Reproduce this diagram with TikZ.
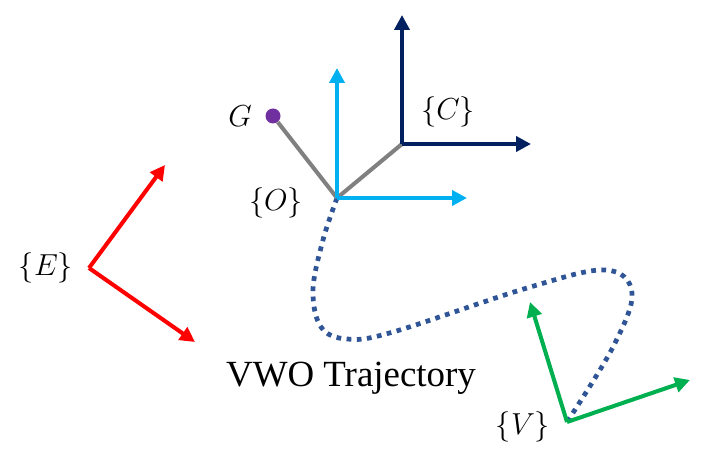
\documentclass[tikz,border=0pt]{standalone}
\usepackage{fontspec}
\setmainfont{Liberation Serif}
\usetikzlibrary{arrows.meta}

\definecolor{frameE}{HTML}{FF0000}
\definecolor{frameO}{HTML}{00B0F0}
\definecolor{frameC}{HTML}{002060}
\definecolor{frameV}{HTML}{00B050}
\definecolor{linkgray}{HTML}{808080}
\definecolor{gpurple}{HTML}{7030A0}
\definecolor{trajblue}{HTML}{2F5597}

\begin{document}
\begin{tikzpicture}[
    axis/.style={line width=2.3pt, -{Triangle[length=8.5pt,width=8.5pt]}},
    link/.style={line width=2.3pt, linkgray},
    traj/.style={line width=2.7pt, trajblue, dash pattern=on 2.7pt off 3.1pt},
    framelabel/.style={font=\fontsize{17.5}{20}\selectfont, inner sep=1pt},
]
\useasboundingbox (0,0) rectangle (14.12,9.24);

% ---- frame origins ----
\coordinate (O) at (6.74,5.28);   % {O}
\coordinate (C) at (8.04,6.36);   % {C}
\coordinate (E) at (1.78,3.88);   % {E}
\coordinate (V) at (11.34,0.80);  % {V}

% ---- axis tips ----
\coordinate (Ox) at (9.34,5.28);
\coordinate (Oy) at (6.74,7.88);
\coordinate (Cx) at (10.62,6.36);
\coordinate (Cy) at (8.04,8.94);
\coordinate (Ex) at (3.90,2.40);
\coordinate (Ey) at (3.30,5.94);
\coordinate (Vx) at (13.80,1.64);
\coordinate (Vy) at (10.60,3.20);

% ---- VWO trajectory (dotted) ----
\draw[traj] plot[smooth, tension=0.6] coordinates {
    (O) (6.46,4.44) (6.26,3.44) (6.42,2.70) (6.94,2.46) (7.86,2.60)
    (10.54,3.48) (12.10,3.84) (12.64,3.38) (12.26,2.30) (V)};

% ---- gray links and G ----
\node[circle, fill=gpurple, minimum size=0.3cm, inner sep=0pt] (G) at (5.46,6.92) {};
\draw[link] (G) -- (O);
\draw[link] (O) -- (C);

% ---- frame axes ----
\draw[axis, frameO] (O) -- (Ox);
\draw[axis, frameO] (O) -- (Oy);
\draw[axis, frameC] (C) -- (Cx);
\draw[axis, frameC] (C) -- (Cy);
\draw[axis, frameE] (E) -- (Ex);
\draw[axis, frameE] (E) -- (Ey);
\draw[axis, frameV] (V) -- (Vx);
\draw[axis, frameV] (V) -- (Vy);

% ---- labels ----
\node[framelabel] (labG) at (4.80,6.92) {$G$};
\node[framelabel] (labC) at (8.96,7.00) {$\{C\}$};
\node[framelabel] (labO) at (5.52,5.18) {$\{O\}$};
\node[framelabel] (labE) at (0.92,3.88) {$\{E\}$};
\node[framelabel] (labV) at (10.46,0.70) {$\{V\}$};
\node[font=\fontsize{21}{25}\selectfont, anchor=base] (labT) at (7.02,1.50) {VWO Trajectory};

\end{tikzpicture}
\end{document}
